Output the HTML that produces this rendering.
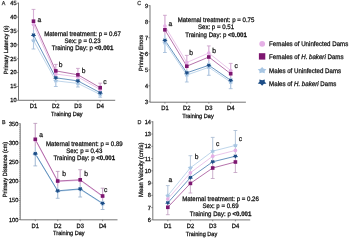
<!DOCTYPE html>
<html><head><meta charset="utf-8"><style>
html,body{margin:0;padding:0;background:#fff;}
svg{display:block;font-family:"Liberation Sans",sans-serif;}
</style></head><body>
<svg style="will-change:transform" width="350" height="238" viewBox="0 0 350 238">
<defs><filter id="soft" x="0" y="0" width="100%" height="100%" filterUnits="userSpaceOnUse"><feGaussianBlur stdDeviation="0.35"/></filter></defs>
<rect width="350" height="238" fill="#fff"/>
<g filter="url(#soft)" text-rendering="geometricPrecision">
<line x1="18.50" y1="2.60" x2="18.50" y2="100.30" stroke="#505050" stroke-width="0.8" />
<line x1="18.50" y1="100.30" x2="115.20" y2="100.30" stroke="#505050" stroke-width="0.8" />
<line x1="16.90" y1="100.30" x2="18.50" y2="100.30" stroke="#505050" stroke-width="0.6" />
<text transform="translate(16.60,102.20) scale(1,1.07)" font-size="5.6" text-anchor="end" font-weight="normal" fill="#111" stroke="#111" stroke-width="0.24">10</text>
<line x1="16.90" y1="86.43" x2="18.50" y2="86.43" stroke="#505050" stroke-width="0.6" />
<text transform="translate(16.60,88.33) scale(1,1.07)" font-size="5.6" text-anchor="end" font-weight="normal" fill="#111" stroke="#111" stroke-width="0.24">15</text>
<line x1="16.90" y1="72.56" x2="18.50" y2="72.56" stroke="#505050" stroke-width="0.6" />
<text transform="translate(16.60,74.46) scale(1,1.07)" font-size="5.6" text-anchor="end" font-weight="normal" fill="#111" stroke="#111" stroke-width="0.24">20</text>
<line x1="16.90" y1="58.69" x2="18.50" y2="58.69" stroke="#505050" stroke-width="0.6" />
<text transform="translate(16.60,60.59) scale(1,1.07)" font-size="5.6" text-anchor="end" font-weight="normal" fill="#111" stroke="#111" stroke-width="0.24">25</text>
<line x1="16.90" y1="44.81" x2="18.50" y2="44.81" stroke="#505050" stroke-width="0.6" />
<text transform="translate(16.60,46.71) scale(1,1.07)" font-size="5.6" text-anchor="end" font-weight="normal" fill="#111" stroke="#111" stroke-width="0.24">30</text>
<line x1="16.90" y1="30.94" x2="18.50" y2="30.94" stroke="#505050" stroke-width="0.6" />
<text transform="translate(16.60,32.84) scale(1,1.07)" font-size="5.6" text-anchor="end" font-weight="normal" fill="#111" stroke="#111" stroke-width="0.24">35</text>
<line x1="16.90" y1="17.07" x2="18.50" y2="17.07" stroke="#505050" stroke-width="0.6" />
<text transform="translate(16.60,18.97) scale(1,1.07)" font-size="5.6" text-anchor="end" font-weight="normal" fill="#111" stroke="#111" stroke-width="0.24">40</text>
<line x1="16.90" y1="3.20" x2="18.50" y2="3.20" stroke="#505050" stroke-width="0.6" />
<text transform="translate(16.60,5.10) scale(1,1.07)" font-size="5.6" text-anchor="end" font-weight="normal" fill="#111" stroke="#111" stroke-width="0.24">45</text>
<line x1="33.50" y1="100.30" x2="33.50" y2="101.70" stroke="#505050" stroke-width="0.6" />
<text transform="translate(33.50,108.30) scale(1,1.07)" font-size="5.8" text-anchor="middle" font-weight="normal" fill="#111" stroke="#111" stroke-width="0.24">D1</text>
<line x1="55.80" y1="100.30" x2="55.80" y2="101.70" stroke="#505050" stroke-width="0.6" />
<text transform="translate(55.80,108.30) scale(1,1.07)" font-size="5.8" text-anchor="middle" font-weight="normal" fill="#111" stroke="#111" stroke-width="0.24">D2</text>
<line x1="77.90" y1="100.30" x2="77.90" y2="101.70" stroke="#505050" stroke-width="0.6" />
<text transform="translate(77.90,108.30) scale(1,1.07)" font-size="5.8" text-anchor="middle" font-weight="normal" fill="#111" stroke="#111" stroke-width="0.24">D3</text>
<line x1="100.20" y1="100.30" x2="100.20" y2="101.70" stroke="#505050" stroke-width="0.6" />
<text transform="translate(100.20,108.30) scale(1,1.07)" font-size="5.8" text-anchor="middle" font-weight="normal" fill="#111" stroke="#111" stroke-width="0.24">D4</text>
<text transform="translate(66.85,116.10) scale(1,1.07)" font-size="5.6" text-anchor="middle" font-weight="normal" fill="#111" stroke="#111" stroke-width="0.24">Training Day</text>
<text transform="translate(8.30,49.90) rotate(-90) scale(1,1.07)" font-size="5.6" text-anchor="middle" font-weight="normal" fill="#111" stroke="#111" stroke-width="0.24">Primary Latency (s)</text>
<text transform="translate(1.70,4.80) scale(1,1.07)" font-size="5.4" text-anchor="start" font-weight="normal" fill="#333" stroke="#333" stroke-width="0.24">A</text>
<line x1="33.50" y1="9.40" x2="33.50" y2="29.80" stroke="#e8c6e8" stroke-width="1.2" />
<line x1="33.50" y1="29.80" x2="33.50" y2="49.00" stroke="#c2d8ee" stroke-width="1.2" />
<line x1="33.50" y1="9.40" x2="33.50" y2="29.80" stroke="#c69bc4" stroke-width="0.5" />
<line x1="33.50" y1="29.80" x2="33.50" y2="49.00" stroke="#9fb9d6" stroke-width="0.5" />
<line x1="31.60" y1="9.40" x2="35.40" y2="9.40" stroke="#c69bc4" stroke-width="0.8" />
<line x1="31.60" y1="49.00" x2="35.40" y2="49.00" stroke="#9fb9d6" stroke-width="0.8" />
<line x1="55.80" y1="64.40" x2="55.80" y2="75.90" stroke="#e8c6e8" stroke-width="1.2" />
<line x1="55.80" y1="75.90" x2="55.80" y2="86.50" stroke="#c2d8ee" stroke-width="1.2" />
<line x1="55.80" y1="64.40" x2="55.80" y2="75.90" stroke="#c69bc4" stroke-width="0.5" />
<line x1="55.80" y1="75.90" x2="55.80" y2="86.50" stroke="#9fb9d6" stroke-width="0.5" />
<line x1="53.90" y1="64.40" x2="57.70" y2="64.40" stroke="#c69bc4" stroke-width="0.8" />
<line x1="53.90" y1="86.50" x2="57.70" y2="86.50" stroke="#9fb9d6" stroke-width="0.8" />
<line x1="77.90" y1="68.40" x2="77.90" y2="78.95" stroke="#e8c6e8" stroke-width="1.2" />
<line x1="77.90" y1="78.95" x2="77.90" y2="87.00" stroke="#c2d8ee" stroke-width="1.2" />
<line x1="77.90" y1="68.40" x2="77.90" y2="78.95" stroke="#c69bc4" stroke-width="0.5" />
<line x1="77.90" y1="78.95" x2="77.90" y2="87.00" stroke="#9fb9d6" stroke-width="0.5" />
<line x1="76.00" y1="68.40" x2="79.80" y2="68.40" stroke="#c69bc4" stroke-width="0.8" />
<line x1="76.00" y1="87.00" x2="79.80" y2="87.00" stroke="#9fb9d6" stroke-width="0.8" />
<line x1="100.20" y1="83.20" x2="100.20" y2="91.10" stroke="#e8c6e8" stroke-width="1.2" />
<line x1="100.20" y1="91.10" x2="100.20" y2="97.20" stroke="#c2d8ee" stroke-width="1.2" />
<line x1="100.20" y1="83.20" x2="100.20" y2="91.10" stroke="#c69bc4" stroke-width="0.5" />
<line x1="100.20" y1="91.10" x2="100.20" y2="97.20" stroke="#9fb9d6" stroke-width="0.5" />
<line x1="98.30" y1="83.20" x2="102.10" y2="83.20" stroke="#c69bc4" stroke-width="0.8" />
<line x1="98.30" y1="97.20" x2="102.10" y2="97.20" stroke="#9fb9d6" stroke-width="0.8" />
<path d="M33.50,40.50 L55.80,80.80 L77.90,83.40 L100.20,94.50" fill="none" stroke="#aecbe6" stroke-width="0.8"/>
<path d="M33.50,24.50 L55.80,74.00 L77.90,77.00 L100.20,89.50" fill="none" stroke="#e4b8e4" stroke-width="0.8"/>
<path d="M33.50,35.10 L55.80,77.80 L77.90,80.90 L100.20,92.70" fill="none" stroke="#427aae" stroke-width="0.8"/>
<path d="M33.50,21.20 L55.80,70.90 L77.90,74.80 L100.20,87.70" fill="none" stroke="#a34f96" stroke-width="0.8"/>
<polygon points="33.50,38.26 34.45,39.45 36.16,39.81 35.04,40.90 35.15,42.31 33.50,41.80 31.85,42.31 31.96,40.90 30.84,39.81 32.55,39.45" fill="#a8c6e3"/>
<circle cx="33.50" cy="24.50" r="1.85" fill="#e5b0e6"/>
<polygon points="33.50,37.34 34.45,36.15 36.16,35.79 35.04,34.70 35.15,33.29 33.50,33.80 31.85,33.29 31.96,34.70 30.84,35.79 32.55,36.15" fill="#1d4e87"/>
<rect x="31.70" y="19.40" width="3.60" height="3.60" fill="#7d1670"/>
<polygon points="55.80,78.56 56.75,79.75 58.46,80.11 57.34,81.20 57.45,82.61 55.80,82.10 54.15,82.61 54.26,81.20 53.14,80.11 54.85,79.75" fill="#a8c6e3"/>
<circle cx="55.80" cy="74.00" r="1.85" fill="#e5b0e6"/>
<polygon points="55.80,80.04 56.75,78.85 58.46,78.49 57.34,77.40 57.45,75.99 55.80,76.50 54.15,75.99 54.26,77.40 53.14,78.49 54.85,78.85" fill="#1d4e87"/>
<rect x="54.00" y="69.10" width="3.60" height="3.60" fill="#7d1670"/>
<polygon points="77.90,81.16 78.85,82.35 80.56,82.71 79.44,83.80 79.55,85.21 77.90,84.70 76.25,85.21 76.36,83.80 75.24,82.71 76.95,82.35" fill="#a8c6e3"/>
<circle cx="77.90" cy="77.00" r="1.85" fill="#e5b0e6"/>
<polygon points="77.90,83.14 78.85,81.95 80.56,81.59 79.44,80.50 79.55,79.09 77.90,79.60 76.25,79.09 76.36,80.50 75.24,81.59 76.95,81.95" fill="#1d4e87"/>
<rect x="76.10" y="73.00" width="3.60" height="3.60" fill="#7d1670"/>
<polygon points="100.20,92.26 101.15,93.45 102.86,93.81 101.74,94.90 101.85,96.31 100.20,95.80 98.55,96.31 98.66,94.90 97.54,93.81 99.25,93.45" fill="#a8c6e3"/>
<circle cx="100.20" cy="89.50" r="1.85" fill="#e5b0e6"/>
<polygon points="100.20,94.94 101.15,93.75 102.86,93.39 101.74,92.30 101.85,90.89 100.20,91.40 98.55,90.89 98.66,92.30 97.54,93.39 99.25,93.75" fill="#1d4e87"/>
<rect x="98.40" y="85.90" width="3.60" height="3.60" fill="#7d1670"/>
<text transform="translate(39.40,22.10) scale(1,1.07)" font-size="6.7" text-anchor="middle" font-weight="normal" fill="#111" stroke="#111" stroke-width="0.22">a</text>
<text transform="translate(60.70,67.00) scale(1,1.07)" font-size="6.7" text-anchor="middle" font-weight="normal" fill="#111" stroke="#111" stroke-width="0.22">b</text>
<text transform="translate(83.60,73.00) scale(1,1.07)" font-size="6.7" text-anchor="middle" font-weight="normal" fill="#111" stroke="#111" stroke-width="0.22">b</text>
<text transform="translate(104.80,84.20) scale(1,1.07)" font-size="6.7" text-anchor="middle" font-weight="normal" fill="#111" stroke="#111" stroke-width="0.22">c</text>
<text transform="translate(82.50,35.50) scale(1,1.07)" font-size="6.1" text-anchor="middle" font-weight="normal" fill="#111" stroke="#111" stroke-width="0.24">Maternal treatment: p = 0.67</text>
<text transform="translate(82.50,42.85) scale(1,1.07)" font-size="6.1" text-anchor="middle" font-weight="normal" fill="#111" stroke="#111" stroke-width="0.24">Sex: p = 0.23</text>
<text transform="translate(82.50,50.10) scale(1,1.07)" font-size="6.1" text-anchor="middle" font-weight="normal" fill="#111" stroke="#111" stroke-width="0.24">Training Day: p <tspan font-weight="bold" stroke-width="0.24">&lt;0.001</tspan></text>
<line x1="20.20" y1="123.30" x2="20.20" y2="219.80" stroke="#505050" stroke-width="0.8" />
<line x1="20.20" y1="219.80" x2="117.50" y2="219.80" stroke="#505050" stroke-width="0.8" />
<line x1="18.60" y1="219.60" x2="20.20" y2="219.60" stroke="#505050" stroke-width="0.6" />
<text transform="translate(18.30,221.50) scale(1,1.07)" font-size="5.6" text-anchor="end" font-weight="normal" fill="#111" stroke="#111" stroke-width="0.24">100</text>
<line x1="18.60" y1="200.44" x2="20.20" y2="200.44" stroke="#505050" stroke-width="0.6" />
<text transform="translate(18.30,202.34) scale(1,1.07)" font-size="5.6" text-anchor="end" font-weight="normal" fill="#111" stroke="#111" stroke-width="0.24">150</text>
<line x1="18.60" y1="181.28" x2="20.20" y2="181.28" stroke="#505050" stroke-width="0.6" />
<text transform="translate(18.30,183.18) scale(1,1.07)" font-size="5.6" text-anchor="end" font-weight="normal" fill="#111" stroke="#111" stroke-width="0.24">200</text>
<line x1="18.60" y1="162.12" x2="20.20" y2="162.12" stroke="#505050" stroke-width="0.6" />
<text transform="translate(18.30,164.02) scale(1,1.07)" font-size="5.6" text-anchor="end" font-weight="normal" fill="#111" stroke="#111" stroke-width="0.24">250</text>
<line x1="18.60" y1="142.96" x2="20.20" y2="142.96" stroke="#505050" stroke-width="0.6" />
<text transform="translate(18.30,144.86) scale(1,1.07)" font-size="5.6" text-anchor="end" font-weight="normal" fill="#111" stroke="#111" stroke-width="0.24">300</text>
<line x1="18.60" y1="123.80" x2="20.20" y2="123.80" stroke="#505050" stroke-width="0.6" />
<text transform="translate(18.30,125.70) scale(1,1.07)" font-size="5.6" text-anchor="end" font-weight="normal" fill="#111" stroke="#111" stroke-width="0.24">350</text>
<line x1="19.20" y1="217.68" x2="20.20" y2="217.68" stroke="#666" stroke-width="0.45" />
<line x1="19.20" y1="215.77" x2="20.20" y2="215.77" stroke="#666" stroke-width="0.45" />
<line x1="19.20" y1="213.85" x2="20.20" y2="213.85" stroke="#666" stroke-width="0.45" />
<line x1="19.20" y1="211.94" x2="20.20" y2="211.94" stroke="#666" stroke-width="0.45" />
<line x1="19.20" y1="210.02" x2="20.20" y2="210.02" stroke="#666" stroke-width="0.45" />
<line x1="19.20" y1="208.10" x2="20.20" y2="208.10" stroke="#666" stroke-width="0.45" />
<line x1="19.20" y1="206.19" x2="20.20" y2="206.19" stroke="#666" stroke-width="0.45" />
<line x1="19.20" y1="204.27" x2="20.20" y2="204.27" stroke="#666" stroke-width="0.45" />
<line x1="19.20" y1="202.36" x2="20.20" y2="202.36" stroke="#666" stroke-width="0.45" />
<line x1="19.20" y1="198.52" x2="20.20" y2="198.52" stroke="#666" stroke-width="0.45" />
<line x1="19.20" y1="196.61" x2="20.20" y2="196.61" stroke="#666" stroke-width="0.45" />
<line x1="19.20" y1="194.69" x2="20.20" y2="194.69" stroke="#666" stroke-width="0.45" />
<line x1="19.20" y1="192.78" x2="20.20" y2="192.78" stroke="#666" stroke-width="0.45" />
<line x1="19.20" y1="190.86" x2="20.20" y2="190.86" stroke="#666" stroke-width="0.45" />
<line x1="19.20" y1="188.94" x2="20.20" y2="188.94" stroke="#666" stroke-width="0.45" />
<line x1="19.20" y1="187.03" x2="20.20" y2="187.03" stroke="#666" stroke-width="0.45" />
<line x1="19.20" y1="185.11" x2="20.20" y2="185.11" stroke="#666" stroke-width="0.45" />
<line x1="19.20" y1="183.20" x2="20.20" y2="183.20" stroke="#666" stroke-width="0.45" />
<line x1="19.20" y1="179.36" x2="20.20" y2="179.36" stroke="#666" stroke-width="0.45" />
<line x1="19.20" y1="177.45" x2="20.20" y2="177.45" stroke="#666" stroke-width="0.45" />
<line x1="19.20" y1="175.53" x2="20.20" y2="175.53" stroke="#666" stroke-width="0.45" />
<line x1="19.20" y1="173.62" x2="20.20" y2="173.62" stroke="#666" stroke-width="0.45" />
<line x1="19.20" y1="171.70" x2="20.20" y2="171.70" stroke="#666" stroke-width="0.45" />
<line x1="19.20" y1="169.78" x2="20.20" y2="169.78" stroke="#666" stroke-width="0.45" />
<line x1="19.20" y1="167.87" x2="20.20" y2="167.87" stroke="#666" stroke-width="0.45" />
<line x1="19.20" y1="165.95" x2="20.20" y2="165.95" stroke="#666" stroke-width="0.45" />
<line x1="19.20" y1="164.04" x2="20.20" y2="164.04" stroke="#666" stroke-width="0.45" />
<line x1="19.20" y1="160.20" x2="20.20" y2="160.20" stroke="#666" stroke-width="0.45" />
<line x1="19.20" y1="158.29" x2="20.20" y2="158.29" stroke="#666" stroke-width="0.45" />
<line x1="19.20" y1="156.37" x2="20.20" y2="156.37" stroke="#666" stroke-width="0.45" />
<line x1="19.20" y1="154.46" x2="20.20" y2="154.46" stroke="#666" stroke-width="0.45" />
<line x1="19.20" y1="152.54" x2="20.20" y2="152.54" stroke="#666" stroke-width="0.45" />
<line x1="19.20" y1="150.62" x2="20.20" y2="150.62" stroke="#666" stroke-width="0.45" />
<line x1="19.20" y1="148.71" x2="20.20" y2="148.71" stroke="#666" stroke-width="0.45" />
<line x1="19.20" y1="146.79" x2="20.20" y2="146.79" stroke="#666" stroke-width="0.45" />
<line x1="19.20" y1="144.88" x2="20.20" y2="144.88" stroke="#666" stroke-width="0.45" />
<line x1="19.20" y1="141.04" x2="20.20" y2="141.04" stroke="#666" stroke-width="0.45" />
<line x1="19.20" y1="139.13" x2="20.20" y2="139.13" stroke="#666" stroke-width="0.45" />
<line x1="19.20" y1="137.21" x2="20.20" y2="137.21" stroke="#666" stroke-width="0.45" />
<line x1="19.20" y1="135.30" x2="20.20" y2="135.30" stroke="#666" stroke-width="0.45" />
<line x1="19.20" y1="133.38" x2="20.20" y2="133.38" stroke="#666" stroke-width="0.45" />
<line x1="19.20" y1="131.46" x2="20.20" y2="131.46" stroke="#666" stroke-width="0.45" />
<line x1="19.20" y1="129.55" x2="20.20" y2="129.55" stroke="#666" stroke-width="0.45" />
<line x1="19.20" y1="127.63" x2="20.20" y2="127.63" stroke="#666" stroke-width="0.45" />
<line x1="19.20" y1="125.72" x2="20.20" y2="125.72" stroke="#666" stroke-width="0.45" />
<line x1="35.30" y1="219.80" x2="35.30" y2="221.20" stroke="#505050" stroke-width="0.6" />
<text transform="translate(35.30,227.60) scale(1,1.07)" font-size="5.8" text-anchor="middle" font-weight="normal" fill="#111" stroke="#111" stroke-width="0.24">D1</text>
<line x1="57.70" y1="219.80" x2="57.70" y2="221.20" stroke="#505050" stroke-width="0.6" />
<text transform="translate(57.70,227.60) scale(1,1.07)" font-size="5.8" text-anchor="middle" font-weight="normal" fill="#111" stroke="#111" stroke-width="0.24">D2</text>
<line x1="80.20" y1="219.80" x2="80.20" y2="221.20" stroke="#505050" stroke-width="0.6" />
<text transform="translate(80.20,227.60) scale(1,1.07)" font-size="5.8" text-anchor="middle" font-weight="normal" fill="#111" stroke="#111" stroke-width="0.24">D3</text>
<line x1="102.60" y1="219.80" x2="102.60" y2="221.20" stroke="#505050" stroke-width="0.6" />
<text transform="translate(102.60,227.60) scale(1,1.07)" font-size="5.8" text-anchor="middle" font-weight="normal" fill="#111" stroke="#111" stroke-width="0.24">D4</text>
<text transform="translate(68.85,235.40) scale(1,1.07)" font-size="5.6" text-anchor="middle" font-weight="normal" fill="#111" stroke="#111" stroke-width="0.24">Training Day</text>
<text transform="translate(7.30,169.50) rotate(-90) scale(1,1.07)" font-size="5.6" text-anchor="middle" font-weight="normal" fill="#111" stroke="#111" stroke-width="0.24">Primary Distance (cm)</text>
<text transform="translate(1.90,124.40) scale(1,1.07)" font-size="5.4" text-anchor="start" font-weight="normal" fill="#333" stroke="#333" stroke-width="0.24">B</text>
<line x1="35.30" y1="123.40" x2="35.30" y2="146.80" stroke="#dfc6df" stroke-width="1.2" />
<line x1="35.30" y1="146.80" x2="35.30" y2="165.90" stroke="#c6d6e8" stroke-width="1.2" />
<line x1="35.30" y1="123.40" x2="35.30" y2="146.80" stroke="#b894b8" stroke-width="0.5" />
<line x1="35.30" y1="146.80" x2="35.30" y2="165.90" stroke="#97aecb" stroke-width="0.5" />
<line x1="33.40" y1="123.40" x2="37.20" y2="123.40" stroke="#b894b8" stroke-width="0.8" />
<line x1="33.40" y1="165.90" x2="37.20" y2="165.90" stroke="#97aecb" stroke-width="0.8" />
<line x1="57.70" y1="171.40" x2="57.70" y2="186.20" stroke="#dfc6df" stroke-width="1.2" />
<line x1="57.70" y1="186.20" x2="57.70" y2="198.30" stroke="#c6d6e8" stroke-width="1.2" />
<line x1="57.70" y1="171.40" x2="57.70" y2="186.20" stroke="#b894b8" stroke-width="0.5" />
<line x1="57.70" y1="186.20" x2="57.70" y2="198.30" stroke="#97aecb" stroke-width="0.5" />
<line x1="55.80" y1="171.40" x2="59.60" y2="171.40" stroke="#b894b8" stroke-width="0.8" />
<line x1="55.80" y1="198.30" x2="59.60" y2="198.30" stroke="#97aecb" stroke-width="0.8" />
<line x1="80.20" y1="169.70" x2="80.20" y2="184.65" stroke="#dfc6df" stroke-width="1.2" />
<line x1="80.20" y1="184.65" x2="80.20" y2="197.00" stroke="#c6d6e8" stroke-width="1.2" />
<line x1="80.20" y1="169.70" x2="80.20" y2="184.65" stroke="#b894b8" stroke-width="0.5" />
<line x1="80.20" y1="184.65" x2="80.20" y2="197.00" stroke="#97aecb" stroke-width="0.5" />
<line x1="78.30" y1="169.70" x2="82.10" y2="169.70" stroke="#b894b8" stroke-width="0.8" />
<line x1="78.30" y1="197.00" x2="82.10" y2="197.00" stroke="#97aecb" stroke-width="0.8" />
<line x1="102.60" y1="188.20" x2="102.60" y2="199.95" stroke="#dfc6df" stroke-width="1.2" />
<line x1="102.60" y1="199.95" x2="102.60" y2="209.50" stroke="#c6d6e8" stroke-width="1.2" />
<line x1="102.60" y1="188.20" x2="102.60" y2="199.95" stroke="#b894b8" stroke-width="0.5" />
<line x1="102.60" y1="199.95" x2="102.60" y2="209.50" stroke="#97aecb" stroke-width="0.5" />
<line x1="100.70" y1="188.20" x2="104.50" y2="188.20" stroke="#b894b8" stroke-width="0.8" />
<line x1="100.70" y1="209.50" x2="104.50" y2="209.50" stroke="#97aecb" stroke-width="0.8" />
<path d="M35.30,154.20 L57.70,191.30 L80.20,189.40 L102.60,203.90" fill="none" stroke="#aecbe6" stroke-width="0.8"/>
<path d="M35.30,140.00 L57.70,181.60 L80.20,180.40 L102.60,196.60" fill="none" stroke="#e4b8e4" stroke-width="0.8"/>
<path d="M35.30,153.60 L57.70,190.80 L80.20,188.90 L102.60,203.30" fill="none" stroke="#427aae" stroke-width="0.8"/>
<path d="M35.30,139.30 L57.70,181.00 L80.20,179.80 L102.60,196.00" fill="none" stroke="#a34f96" stroke-width="0.8"/>
<polygon points="35.30,151.96 36.25,153.15 37.96,153.51 36.84,154.60 36.95,156.01 35.30,155.50 33.65,156.01 33.76,154.60 32.64,153.51 34.35,153.15" fill="#a8c6e3"/>
<circle cx="35.30" cy="140.00" r="1.85" fill="#e5b0e6"/>
<polygon points="35.30,155.84 36.25,154.65 37.96,154.29 36.84,153.20 36.95,151.79 35.30,152.30 33.65,151.79 33.76,153.20 32.64,154.29 34.35,154.65" fill="#1d4e87"/>
<rect x="33.50" y="137.50" width="3.60" height="3.60" fill="#7d1670"/>
<polygon points="57.70,189.06 58.65,190.25 60.36,190.61 59.24,191.70 59.35,193.11 57.70,192.60 56.05,193.11 56.16,191.70 55.04,190.61 56.75,190.25" fill="#a8c6e3"/>
<circle cx="57.70" cy="181.60" r="1.85" fill="#e5b0e6"/>
<polygon points="57.70,193.04 58.65,191.85 60.36,191.49 59.24,190.40 59.35,188.99 57.70,189.50 56.05,188.99 56.16,190.40 55.04,191.49 56.75,191.85" fill="#1d4e87"/>
<rect x="55.90" y="179.20" width="3.60" height="3.60" fill="#7d1670"/>
<polygon points="80.20,187.16 81.15,188.35 82.86,188.71 81.74,189.80 81.85,191.21 80.20,190.70 78.55,191.21 78.66,189.80 77.54,188.71 79.25,188.35" fill="#a8c6e3"/>
<circle cx="80.20" cy="180.40" r="1.85" fill="#e5b0e6"/>
<polygon points="80.20,191.14 81.15,189.95 82.86,189.59 81.74,188.50 81.85,187.09 80.20,187.60 78.55,187.09 78.66,188.50 77.54,189.59 79.25,189.95" fill="#1d4e87"/>
<rect x="78.40" y="178.00" width="3.60" height="3.60" fill="#7d1670"/>
<polygon points="102.60,201.66 103.55,202.85 105.26,203.21 104.14,204.30 104.25,205.71 102.60,205.20 100.95,205.71 101.06,204.30 99.94,203.21 101.65,202.85" fill="#a8c6e3"/>
<circle cx="102.60" cy="196.60" r="1.85" fill="#e5b0e6"/>
<polygon points="102.60,205.54 103.55,204.35 105.26,203.99 104.14,202.90 104.25,201.49 102.60,202.00 100.95,201.49 101.06,202.90 99.94,203.99 101.65,204.35" fill="#1d4e87"/>
<rect x="100.80" y="194.20" width="3.60" height="3.60" fill="#7d1670"/>
<text transform="translate(41.20,136.50) scale(1,1.07)" font-size="6.7" text-anchor="middle" font-weight="normal" fill="#111" stroke="#111" stroke-width="0.22">a</text>
<text transform="translate(64.00,176.20) scale(1,1.07)" font-size="6.7" text-anchor="middle" font-weight="normal" fill="#111" stroke="#111" stroke-width="0.22">b</text>
<text transform="translate(86.20,176.20) scale(1,1.07)" font-size="6.7" text-anchor="middle" font-weight="normal" fill="#111" stroke="#111" stroke-width="0.22">b</text>
<text transform="translate(105.60,192.30) scale(1,1.07)" font-size="6.7" text-anchor="middle" font-weight="normal" fill="#111" stroke="#111" stroke-width="0.22">c</text>
<text transform="translate(84.30,145.60) scale(1,1.07)" font-size="6.1" text-anchor="middle" font-weight="normal" fill="#111" stroke="#111" stroke-width="0.24">Maternal treatment: p = 0.89</text>
<text transform="translate(84.30,152.95) scale(1,1.07)" font-size="6.1" text-anchor="middle" font-weight="normal" fill="#111" stroke="#111" stroke-width="0.24">Sex: p = 0.43</text>
<text transform="translate(84.30,160.20) scale(1,1.07)" font-size="6.1" text-anchor="middle" font-weight="normal" fill="#111" stroke="#111" stroke-width="0.24">Training Day: p <tspan font-weight="bold" stroke-width="0.24">&lt;0.001</tspan></text>
<line x1="150.00" y1="5.20" x2="150.00" y2="102.20" stroke="#505050" stroke-width="0.8" />
<line x1="150.00" y1="102.20" x2="245.90" y2="102.20" stroke="#505050" stroke-width="0.8" />
<line x1="148.40" y1="101.90" x2="150.00" y2="101.90" stroke="#505050" stroke-width="0.6" />
<text transform="translate(148.10,103.80) scale(1,1.07)" font-size="5.6" text-anchor="end" font-weight="normal" fill="#111" stroke="#111" stroke-width="0.24">3</text>
<line x1="148.40" y1="85.87" x2="150.00" y2="85.87" stroke="#505050" stroke-width="0.6" />
<text transform="translate(148.10,87.77) scale(1,1.07)" font-size="5.6" text-anchor="end" font-weight="normal" fill="#111" stroke="#111" stroke-width="0.24">4</text>
<line x1="148.40" y1="69.83" x2="150.00" y2="69.83" stroke="#505050" stroke-width="0.6" />
<text transform="translate(148.10,71.73) scale(1,1.07)" font-size="5.6" text-anchor="end" font-weight="normal" fill="#111" stroke="#111" stroke-width="0.24">5</text>
<line x1="148.40" y1="53.80" x2="150.00" y2="53.80" stroke="#505050" stroke-width="0.6" />
<text transform="translate(148.10,55.70) scale(1,1.07)" font-size="5.6" text-anchor="end" font-weight="normal" fill="#111" stroke="#111" stroke-width="0.24">6</text>
<line x1="148.40" y1="37.77" x2="150.00" y2="37.77" stroke="#505050" stroke-width="0.6" />
<text transform="translate(148.10,39.67) scale(1,1.07)" font-size="5.6" text-anchor="end" font-weight="normal" fill="#111" stroke="#111" stroke-width="0.24">7</text>
<line x1="148.40" y1="21.73" x2="150.00" y2="21.73" stroke="#505050" stroke-width="0.6" />
<text transform="translate(148.10,23.63) scale(1,1.07)" font-size="5.6" text-anchor="end" font-weight="normal" fill="#111" stroke="#111" stroke-width="0.24">8</text>
<line x1="148.40" y1="5.70" x2="150.00" y2="5.70" stroke="#505050" stroke-width="0.6" />
<text transform="translate(148.10,7.60) scale(1,1.07)" font-size="5.6" text-anchor="end" font-weight="normal" fill="#111" stroke="#111" stroke-width="0.24">9</text>
<line x1="164.90" y1="102.20" x2="164.90" y2="103.60" stroke="#505050" stroke-width="0.6" />
<text transform="translate(164.90,109.80) scale(1,1.07)" font-size="5.8" text-anchor="middle" font-weight="normal" fill="#111" stroke="#111" stroke-width="0.24">D1</text>
<line x1="186.80" y1="102.20" x2="186.80" y2="103.60" stroke="#505050" stroke-width="0.6" />
<text transform="translate(186.80,109.80) scale(1,1.07)" font-size="5.8" text-anchor="middle" font-weight="normal" fill="#111" stroke="#111" stroke-width="0.24">D2</text>
<line x1="208.80" y1="102.20" x2="208.80" y2="103.60" stroke="#505050" stroke-width="0.6" />
<text transform="translate(208.80,109.80) scale(1,1.07)" font-size="5.8" text-anchor="middle" font-weight="normal" fill="#111" stroke="#111" stroke-width="0.24">D3</text>
<line x1="230.70" y1="102.20" x2="230.70" y2="103.60" stroke="#505050" stroke-width="0.6" />
<text transform="translate(230.70,109.80) scale(1,1.07)" font-size="5.8" text-anchor="middle" font-weight="normal" fill="#111" stroke="#111" stroke-width="0.24">D4</text>
<text transform="translate(197.95,117.50) scale(1,1.07)" font-size="5.6" text-anchor="middle" font-weight="normal" fill="#111" stroke="#111" stroke-width="0.24">Training Day</text>
<text transform="translate(143.20,52.90) rotate(-90) scale(1,1.07)" font-size="5.6" text-anchor="middle" font-weight="normal" fill="#111" stroke="#111" stroke-width="0.24">Primary Errors</text>
<text transform="translate(137.30,4.60) scale(1,1.07)" font-size="5.4" text-anchor="start" font-weight="normal" fill="#333" stroke="#333" stroke-width="0.24">C</text>
<line x1="164.90" y1="15.30" x2="164.90" y2="35.00" stroke="#e8c6e8" stroke-width="1.2" />
<line x1="164.90" y1="35.00" x2="164.90" y2="52.50" stroke="#c2d8ee" stroke-width="1.2" />
<line x1="164.90" y1="15.30" x2="164.90" y2="35.00" stroke="#c69bc4" stroke-width="0.5" />
<line x1="164.90" y1="35.00" x2="164.90" y2="52.50" stroke="#9fb9d6" stroke-width="0.5" />
<line x1="163.00" y1="15.30" x2="166.80" y2="15.30" stroke="#c69bc4" stroke-width="0.8" />
<line x1="163.00" y1="52.50" x2="166.80" y2="52.50" stroke="#9fb9d6" stroke-width="0.8" />
<line x1="186.80" y1="55.40" x2="186.80" y2="69.50" stroke="#e8c6e8" stroke-width="1.2" />
<line x1="186.80" y1="69.50" x2="186.80" y2="82.00" stroke="#c2d8ee" stroke-width="1.2" />
<line x1="186.80" y1="55.40" x2="186.80" y2="69.50" stroke="#c69bc4" stroke-width="0.5" />
<line x1="186.80" y1="69.50" x2="186.80" y2="82.00" stroke="#9fb9d6" stroke-width="0.5" />
<line x1="184.90" y1="55.40" x2="188.70" y2="55.40" stroke="#c69bc4" stroke-width="0.8" />
<line x1="184.90" y1="82.00" x2="188.70" y2="82.00" stroke="#9fb9d6" stroke-width="0.8" />
<line x1="208.80" y1="45.90" x2="208.80" y2="61.15" stroke="#e8c6e8" stroke-width="1.2" />
<line x1="208.80" y1="61.15" x2="208.80" y2="75.30" stroke="#c2d8ee" stroke-width="1.2" />
<line x1="208.80" y1="45.90" x2="208.80" y2="61.15" stroke="#c69bc4" stroke-width="0.5" />
<line x1="208.80" y1="61.15" x2="208.80" y2="75.30" stroke="#9fb9d6" stroke-width="0.5" />
<line x1="206.90" y1="45.90" x2="210.70" y2="45.90" stroke="#c69bc4" stroke-width="0.8" />
<line x1="206.90" y1="75.30" x2="210.70" y2="75.30" stroke="#9fb9d6" stroke-width="0.8" />
<line x1="230.70" y1="63.40" x2="230.70" y2="77.00" stroke="#e8c6e8" stroke-width="1.2" />
<line x1="230.70" y1="77.00" x2="230.70" y2="88.70" stroke="#c2d8ee" stroke-width="1.2" />
<line x1="230.70" y1="63.40" x2="230.70" y2="77.00" stroke="#c69bc4" stroke-width="0.5" />
<line x1="230.70" y1="77.00" x2="230.70" y2="88.70" stroke="#9fb9d6" stroke-width="0.5" />
<line x1="228.80" y1="63.40" x2="232.60" y2="63.40" stroke="#c69bc4" stroke-width="0.8" />
<line x1="228.80" y1="88.70" x2="232.60" y2="88.70" stroke="#9fb9d6" stroke-width="0.8" />
<path d="M164.90,42.60 L186.80,75.00 L208.80,67.30 L230.70,82.10" fill="none" stroke="#aecbe6" stroke-width="0.8"/>
<path d="M164.90,26.00 L186.80,62.50 L208.80,53.00 L230.70,70.50" fill="none" stroke="#e4b8e4" stroke-width="0.8"/>
<path d="M164.90,40.20 L186.80,72.80 L208.80,65.30 L230.70,80.30" fill="none" stroke="#427aae" stroke-width="0.8"/>
<path d="M164.90,29.80 L186.80,66.20 L208.80,57.00 L230.70,73.70" fill="none" stroke="#a34f96" stroke-width="0.8"/>
<polygon points="164.90,40.36 165.85,41.55 167.56,41.91 166.44,43.00 166.55,44.41 164.90,43.90 163.25,44.41 163.36,43.00 162.24,41.91 163.95,41.55" fill="#a8c6e3"/>
<circle cx="164.90" cy="26.00" r="1.85" fill="#e5b0e6"/>
<polygon points="164.90,42.44 165.85,41.25 167.56,40.89 166.44,39.80 166.55,38.39 164.90,38.90 163.25,38.39 163.36,39.80 162.24,40.89 163.95,41.25" fill="#1d4e87"/>
<rect x="163.10" y="28.00" width="3.60" height="3.60" fill="#7d1670"/>
<polygon points="186.80,72.76 187.75,73.95 189.46,74.31 188.34,75.40 188.45,76.81 186.80,76.30 185.15,76.81 185.26,75.40 184.14,74.31 185.85,73.95" fill="#a8c6e3"/>
<circle cx="186.80" cy="62.50" r="1.85" fill="#e5b0e6"/>
<polygon points="186.80,75.04 187.75,73.85 189.46,73.49 188.34,72.40 188.45,70.99 186.80,71.50 185.15,70.99 185.26,72.40 184.14,73.49 185.85,73.85" fill="#1d4e87"/>
<rect x="185.00" y="64.40" width="3.60" height="3.60" fill="#7d1670"/>
<polygon points="208.80,65.06 209.75,66.25 211.46,66.61 210.34,67.70 210.45,69.11 208.80,68.60 207.15,69.11 207.26,67.70 206.14,66.61 207.85,66.25" fill="#a8c6e3"/>
<circle cx="208.80" cy="53.00" r="1.85" fill="#e5b0e6"/>
<polygon points="208.80,67.54 209.75,66.35 211.46,65.99 210.34,64.90 210.45,63.49 208.80,64.00 207.15,63.49 207.26,64.90 206.14,65.99 207.85,66.35" fill="#1d4e87"/>
<rect x="207.00" y="55.20" width="3.60" height="3.60" fill="#7d1670"/>
<polygon points="230.70,79.86 231.65,81.05 233.36,81.41 232.24,82.50 232.35,83.91 230.70,83.40 229.05,83.91 229.16,82.50 228.04,81.41 229.75,81.05" fill="#a8c6e3"/>
<circle cx="230.70" cy="70.50" r="1.85" fill="#e5b0e6"/>
<polygon points="230.70,82.54 231.65,81.35 233.36,80.99 232.24,79.90 232.35,78.49 230.70,79.00 229.05,78.49 229.16,79.90 228.04,80.99 229.75,81.35" fill="#1d4e87"/>
<rect x="228.90" y="71.90" width="3.60" height="3.60" fill="#7d1670"/>
<text transform="translate(170.40,25.70) scale(1,1.07)" font-size="6.7" text-anchor="middle" font-weight="normal" fill="#111" stroke="#111" stroke-width="0.22">a</text>
<text transform="translate(191.20,55.40) scale(1,1.07)" font-size="6.7" text-anchor="middle" font-weight="normal" fill="#111" stroke="#111" stroke-width="0.22">b</text>
<text transform="translate(214.20,52.90) scale(1,1.07)" font-size="6.7" text-anchor="middle" font-weight="normal" fill="#111" stroke="#111" stroke-width="0.22">b</text>
<text transform="translate(236.20,68.00) scale(1,1.07)" font-size="6.7" text-anchor="middle" font-weight="normal" fill="#111" stroke="#111" stroke-width="0.22">c</text>
<text transform="translate(216.00,22.00) scale(1,1.07)" font-size="6.1" text-anchor="middle" font-weight="normal" fill="#111" stroke="#111" stroke-width="0.24">Maternal treatment: p = 0.75</text>
<text transform="translate(216.00,29.35) scale(1,1.07)" font-size="6.1" text-anchor="middle" font-weight="normal" fill="#111" stroke="#111" stroke-width="0.24">Sex: p = 0.51</text>
<text transform="translate(216.00,36.60) scale(1,1.07)" font-size="6.1" text-anchor="middle" font-weight="normal" fill="#111" stroke="#111" stroke-width="0.24">Training Day: p <tspan font-weight="bold" stroke-width="0.24">&lt;0.001</tspan></text>
<line x1="152.80" y1="121.20" x2="152.80" y2="219.90" stroke="#505050" stroke-width="0.8" />
<line x1="152.80" y1="219.90" x2="250.20" y2="219.90" stroke="#505050" stroke-width="0.8" />
<line x1="151.20" y1="219.90" x2="152.80" y2="219.90" stroke="#505050" stroke-width="0.6" />
<text transform="translate(150.90,222.00) scale(1,1.07)" font-size="5.6" text-anchor="end" font-weight="normal" fill="#111" stroke="#111" stroke-width="0.24">6</text>
<line x1="151.20" y1="207.64" x2="152.80" y2="207.64" stroke="#505050" stroke-width="0.6" />
<text transform="translate(150.90,209.74) scale(1,1.07)" font-size="5.6" text-anchor="end" font-weight="normal" fill="#111" stroke="#111" stroke-width="0.24">7</text>
<line x1="151.20" y1="195.38" x2="152.80" y2="195.38" stroke="#505050" stroke-width="0.6" />
<text transform="translate(150.90,197.47) scale(1,1.07)" font-size="5.6" text-anchor="end" font-weight="normal" fill="#111" stroke="#111" stroke-width="0.24">8</text>
<line x1="151.20" y1="183.11" x2="152.80" y2="183.11" stroke="#505050" stroke-width="0.6" />
<text transform="translate(150.90,185.21) scale(1,1.07)" font-size="5.6" text-anchor="end" font-weight="normal" fill="#111" stroke="#111" stroke-width="0.24">9</text>
<line x1="151.20" y1="170.85" x2="152.80" y2="170.85" stroke="#505050" stroke-width="0.6" />
<text transform="translate(150.90,172.95) scale(1,1.07)" font-size="5.6" text-anchor="end" font-weight="normal" fill="#111" stroke="#111" stroke-width="0.24">10</text>
<line x1="151.20" y1="158.59" x2="152.80" y2="158.59" stroke="#505050" stroke-width="0.6" />
<text transform="translate(150.90,160.69) scale(1,1.07)" font-size="5.6" text-anchor="end" font-weight="normal" fill="#111" stroke="#111" stroke-width="0.24">11</text>
<line x1="151.20" y1="146.32" x2="152.80" y2="146.32" stroke="#505050" stroke-width="0.6" />
<text transform="translate(150.90,148.42) scale(1,1.07)" font-size="5.6" text-anchor="end" font-weight="normal" fill="#111" stroke="#111" stroke-width="0.24">12</text>
<line x1="151.20" y1="134.06" x2="152.80" y2="134.06" stroke="#505050" stroke-width="0.6" />
<text transform="translate(150.90,136.16) scale(1,1.07)" font-size="5.6" text-anchor="end" font-weight="normal" fill="#111" stroke="#111" stroke-width="0.24">13</text>
<line x1="151.20" y1="121.80" x2="152.80" y2="121.80" stroke="#505050" stroke-width="0.6" />
<text transform="translate(150.90,123.90) scale(1,1.07)" font-size="5.6" text-anchor="end" font-weight="normal" fill="#111" stroke="#111" stroke-width="0.24">14</text>
<line x1="167.80" y1="219.90" x2="167.80" y2="221.30" stroke="#505050" stroke-width="0.6" />
<text transform="translate(167.80,227.50) scale(1,1.07)" font-size="5.8" text-anchor="middle" font-weight="normal" fill="#111" stroke="#111" stroke-width="0.24">D1</text>
<line x1="190.40" y1="219.90" x2="190.40" y2="221.30" stroke="#505050" stroke-width="0.6" />
<text transform="translate(190.40,227.50) scale(1,1.07)" font-size="5.8" text-anchor="middle" font-weight="normal" fill="#111" stroke="#111" stroke-width="0.24">D2</text>
<line x1="212.70" y1="219.90" x2="212.70" y2="221.30" stroke="#505050" stroke-width="0.6" />
<text transform="translate(212.70,227.50) scale(1,1.07)" font-size="5.8" text-anchor="middle" font-weight="normal" fill="#111" stroke="#111" stroke-width="0.24">D3</text>
<line x1="235.40" y1="219.90" x2="235.40" y2="221.30" stroke="#505050" stroke-width="0.6" />
<text transform="translate(235.40,227.50) scale(1,1.07)" font-size="5.8" text-anchor="middle" font-weight="normal" fill="#111" stroke="#111" stroke-width="0.24">D4</text>
<text transform="translate(201.50,235.70) scale(1,1.07)" font-size="5.6" text-anchor="middle" font-weight="normal" fill="#111" stroke="#111" stroke-width="0.24">Training Day</text>
<text transform="translate(143.00,169.80) rotate(-90) scale(1,1.07)" font-size="5.85" text-anchor="middle" font-weight="normal" fill="#111" stroke="#111" stroke-width="0.24">Mean Velocity (cm/s)</text>
<text transform="translate(137.40,124.40) scale(1,1.07)" font-size="5.4" text-anchor="start" font-weight="normal" fill="#333" stroke="#333" stroke-width="0.24">D</text>
<line x1="167.80" y1="185.60" x2="167.80" y2="200.90" stroke="#d0dcea" stroke-width="1.0" />
<line x1="167.80" y1="200.90" x2="167.80" y2="214.70" stroke="#e0cde0" stroke-width="1.0" />
<line x1="167.80" y1="185.60" x2="167.80" y2="200.90" stroke="#a6b9d0" stroke-width="0.5" />
<line x1="167.80" y1="200.90" x2="167.80" y2="214.70" stroke="#c0a0c0" stroke-width="0.5" />
<line x1="165.90" y1="185.60" x2="169.70" y2="185.60" stroke="#a6b9d0" stroke-width="0.8" />
<line x1="165.90" y1="214.70" x2="169.70" y2="214.70" stroke="#c0a0c0" stroke-width="0.8" />
<line x1="190.40" y1="155.70" x2="190.40" y2="175.20" stroke="#d0dcea" stroke-width="1.0" />
<line x1="190.40" y1="175.20" x2="190.40" y2="193.00" stroke="#e0cde0" stroke-width="1.0" />
<line x1="190.40" y1="155.70" x2="190.40" y2="175.20" stroke="#a6b9d0" stroke-width="0.5" />
<line x1="190.40" y1="175.20" x2="190.40" y2="193.00" stroke="#c0a0c0" stroke-width="0.5" />
<line x1="188.50" y1="155.70" x2="192.30" y2="155.70" stroke="#a6b9d0" stroke-width="0.8" />
<line x1="188.50" y1="193.00" x2="192.30" y2="193.00" stroke="#c0a0c0" stroke-width="0.8" />
<line x1="212.70" y1="137.40" x2="212.70" y2="159.00" stroke="#d0dcea" stroke-width="1.0" />
<line x1="212.70" y1="159.00" x2="212.70" y2="178.50" stroke="#e0cde0" stroke-width="1.0" />
<line x1="212.70" y1="137.40" x2="212.70" y2="159.00" stroke="#a6b9d0" stroke-width="0.5" />
<line x1="212.70" y1="159.00" x2="212.70" y2="178.50" stroke="#c0a0c0" stroke-width="0.5" />
<line x1="210.80" y1="137.40" x2="214.60" y2="137.40" stroke="#a6b9d0" stroke-width="0.8" />
<line x1="210.80" y1="178.50" x2="214.60" y2="178.50" stroke="#c0a0c0" stroke-width="0.8" />
<line x1="235.40" y1="130.50" x2="235.40" y2="153.30" stroke="#d0dcea" stroke-width="1.0" />
<line x1="235.40" y1="153.30" x2="235.40" y2="172.50" stroke="#e0cde0" stroke-width="1.0" />
<line x1="235.40" y1="130.50" x2="235.40" y2="153.30" stroke="#a6b9d0" stroke-width="0.5" />
<line x1="235.40" y1="153.30" x2="235.40" y2="172.50" stroke="#c0a0c0" stroke-width="0.5" />
<line x1="233.50" y1="130.50" x2="237.30" y2="130.50" stroke="#a6b9d0" stroke-width="0.8" />
<line x1="233.50" y1="172.50" x2="237.30" y2="172.50" stroke="#c0a0c0" stroke-width="0.8" />
<path d="M167.80,195.60 L190.40,167.80 L212.70,151.20 L235.40,145.40" fill="none" stroke="#aecbe6" stroke-width="0.8"/>
<path d="M167.80,199.00 L190.40,172.80 L212.70,156.20 L235.40,150.40" fill="none" stroke="#e4b8e4" stroke-width="0.8"/>
<path d="M167.80,202.80 L190.40,177.60 L212.70,161.80 L235.40,156.20" fill="none" stroke="#427aae" stroke-width="0.8"/>
<path d="M167.80,207.30 L190.40,183.40 L212.70,168.00 L235.40,162.00" fill="none" stroke="#a34f96" stroke-width="0.8"/>
<polygon points="167.80,193.36 168.75,194.55 170.46,194.91 169.34,196.00 169.45,197.41 167.80,196.90 166.15,197.41 166.26,196.00 165.14,194.91 166.85,194.55" fill="#a8c6e3"/>
<circle cx="167.80" cy="199.00" r="1.85" fill="#e5b0e6"/>
<polygon points="167.80,205.04 168.75,203.85 170.46,203.49 169.34,202.40 169.45,200.99 167.80,201.50 166.15,200.99 166.26,202.40 165.14,203.49 166.85,203.85" fill="#1d4e87"/>
<rect x="166.00" y="205.50" width="3.60" height="3.60" fill="#7d1670"/>
<polygon points="190.40,165.56 191.35,166.75 193.06,167.11 191.94,168.20 192.05,169.61 190.40,169.10 188.75,169.61 188.86,168.20 187.74,167.11 189.45,166.75" fill="#a8c6e3"/>
<circle cx="190.40" cy="172.80" r="1.85" fill="#e5b0e6"/>
<polygon points="190.40,179.84 191.35,178.65 193.06,178.29 191.94,177.20 192.05,175.79 190.40,176.30 188.75,175.79 188.86,177.20 187.74,178.29 189.45,178.65" fill="#1d4e87"/>
<rect x="188.60" y="181.60" width="3.60" height="3.60" fill="#7d1670"/>
<polygon points="212.70,148.96 213.65,150.15 215.36,150.51 214.24,151.60 214.35,153.01 212.70,152.50 211.05,153.01 211.16,151.60 210.04,150.51 211.75,150.15" fill="#a8c6e3"/>
<circle cx="212.70" cy="156.20" r="1.85" fill="#e5b0e6"/>
<polygon points="212.70,164.04 213.65,162.85 215.36,162.49 214.24,161.40 214.35,159.99 212.70,160.50 211.05,159.99 211.16,161.40 210.04,162.49 211.75,162.85" fill="#1d4e87"/>
<rect x="210.90" y="166.20" width="3.60" height="3.60" fill="#7d1670"/>
<polygon points="235.40,143.16 236.35,144.35 238.06,144.71 236.94,145.80 237.05,147.21 235.40,146.70 233.75,147.21 233.86,145.80 232.74,144.71 234.45,144.35" fill="#a8c6e3"/>
<circle cx="235.40" cy="150.40" r="1.85" fill="#e5b0e6"/>
<polygon points="235.40,158.44 236.35,157.25 238.06,156.89 236.94,155.80 237.05,154.39 235.40,154.90 233.75,154.39 233.86,155.80 232.74,156.89 234.45,157.25" fill="#1d4e87"/>
<rect x="233.60" y="160.20" width="3.60" height="3.60" fill="#7d1670"/>
<text transform="translate(170.30,182.20) scale(1,1.07)" font-size="6.7" text-anchor="middle" font-weight="normal" fill="#111" stroke="#111" stroke-width="0.22">a</text>
<text transform="translate(196.60,158.90) scale(1,1.07)" font-size="6.7" text-anchor="middle" font-weight="normal" fill="#111" stroke="#111" stroke-width="0.22">b</text>
<text transform="translate(217.60,146.00) scale(1,1.07)" font-size="6.7" text-anchor="middle" font-weight="normal" fill="#111" stroke="#111" stroke-width="0.22">c</text>
<text transform="translate(240.40,140.90) scale(1,1.07)" font-size="6.7" text-anchor="middle" font-weight="normal" fill="#111" stroke="#111" stroke-width="0.22">c</text>
<text transform="translate(220.50,201.00) scale(1,1.07)" font-size="6.1" text-anchor="middle" font-weight="normal" fill="#111" stroke="#111" stroke-width="0.24">Maternal treatment: p = 0.26</text>
<text transform="translate(220.50,208.35) scale(1,1.07)" font-size="6.1" text-anchor="middle" font-weight="normal" fill="#111" stroke="#111" stroke-width="0.24">Sex: p = 0.69</text>
<text transform="translate(220.50,215.60) scale(1,1.07)" font-size="6.1" text-anchor="middle" font-weight="normal" fill="#111" stroke="#111" stroke-width="0.24">Training Day: p <tspan font-weight="bold" stroke-width="0.24">&lt;0.001</tspan></text>
<circle cx="262.2" cy="43.8" r="2.9" fill="#e5b0e6"/>
<rect x="258.9" y="53.2" width="6.4" height="6.4" fill="#7d1670"/>
<polygon points="262.10,66.95 263.72,68.73 266.47,69.33 264.72,71.04 264.80,73.19 262.10,72.47 259.40,73.19 259.48,71.04 257.73,69.33 260.48,68.73" fill="#a8c6e3"/>
<polygon points="262.10,85.85 263.72,84.07 266.47,83.47 264.72,81.76 264.80,79.61 262.10,80.33 259.40,79.61 259.48,81.76 257.73,83.47 260.48,84.07" fill="#1d4e87"/>
<text transform="translate(269.10,46.00) scale(1,1.07)" font-size="6.15" text-anchor="start" font-weight="normal" fill="#111" stroke="#111" stroke-width="0.24">Females of Uninfected Dams</text>
<text transform="translate(269.10,59.10) scale(1,1.07)" font-size="6.15" text-anchor="start" font-weight="normal" fill="#111" stroke="#111" stroke-width="0.24">Females of <tspan font-style="italic">H. bakeri</tspan> Dams</text>
<text transform="translate(269.10,73.10) scale(1,1.07)" font-size="6.15" text-anchor="start" font-weight="normal" fill="#111" stroke="#111" stroke-width="0.24">Males of Uninfected Dams</text>
<text transform="translate(269.10,85.90) scale(1,1.07)" font-size="6.15" text-anchor="start" font-weight="normal" fill="#111" stroke="#111" stroke-width="0.24">Males of <tspan font-style="italic">H. bakeri</tspan> Dams</text>
</g>
</svg>
</body></html>
